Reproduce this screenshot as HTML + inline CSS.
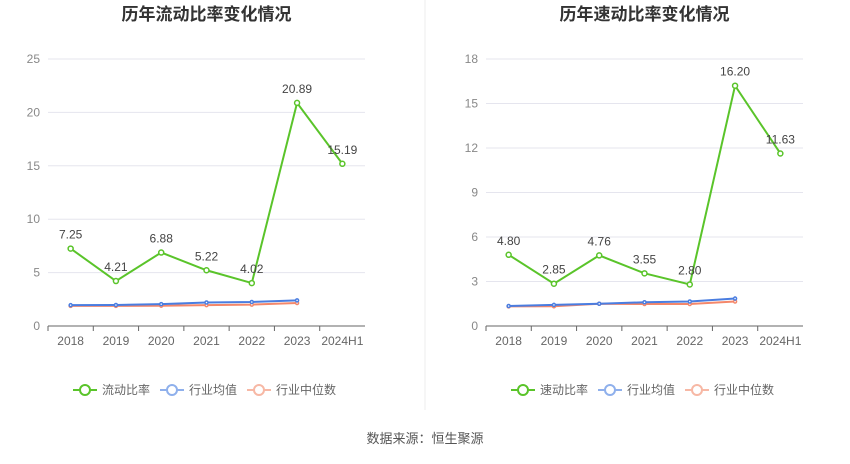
<!DOCTYPE html>
<html><head><meta charset="utf-8">
<style>
body{margin:0;background:#fff;font-family:"Liberation Sans","Noto Sans CJK SC",sans-serif;}
svg text{font-family:"Liberation Sans","Noto Sans CJK SC",sans-serif;}
</style></head>
<body>
<svg id="root" width="850" height="459">
<line x1="425" y1="0" x2="425" y2="410" stroke="#eeeeee"/>
<text x="425" y="443" text-anchor="middle" font-size="13" fill="#555">数据来源：恒生聚源</text>
</svg>
<script>
const categories=["2018","2019","2020","2021","2022","2023","2024H1"];
const leftMain=[7.25,4.21,6.88,5.22,4.02,20.89,15.19];
const leftAvg=[1.95,1.97,2.05,2.2,2.25,2.4];
const leftMed=[1.88,1.88,1.9,1.95,2.0,2.15];
const leftTicks=[0,5,10,15,20,25];
const rightMain=[4.80,2.85,4.76,3.55,2.80,16.20,11.63];
const rightAvg=[1.35,1.42,1.5,1.6,1.65,1.85];
const rightMed=[1.32,1.33,1.5,1.48,1.48,1.65];
const rightTicks=[0,3,6,9,12,15,18];
const NS="http://www.w3.org/2000/svg";
const root=document.getElementById('root');
function mk(tag,attrs,parent){const e=document.createElementNS(NS,tag);for(const k in attrs)e.setAttribute(k,attrs[k]);(parent||root).appendChild(e);return e;}
function chart(cfg){
  const g=mk('g',{});
  
  
  const x0=cfg.x0,x1=cfg.x0+317,yb=326,yt=59,max=cfg.ticks[cfg.ticks.length-1];
  const band=(x1-x0)/categories.length;
  const xs=i=>x0+band*(i+0.5);
  const ys=v=>yb-(v/max)*(yb-yt);
  const t=mk('text',{x:(x0+x1)/2,y:20,'text-anchor':'middle','font-size':17,'font-weight':'bold',fill:'#333'},g);
  t.textContent=cfg.title;
  
  
  cfg.ticks.forEach(v=>{
    const l=mk('line',{x1:x0,x2:x1,y1:ys(v),y2:ys(v),stroke:v===0?'#666':'#e5e5ee'},g);
    
    
    const tx=mk('text',{x:x0-8,y:ys(v)+4,'text-anchor':'end','font-size':12,fill:'#888'},g);
    tx.textContent=v;
    
    
  });
  categories.forEach((c,i)=>{
    const tk=mk('line',{x1:x0+band*i,x2:x0+band*i,y1:yb,y2:yb+5,stroke:'#666'},g);
    
    
    const tx=mk('text',{x:xs(i),y:yb+19,'text-anchor':'middle','font-size':12,fill:'#666'},g);
    tx.textContent=c;
    
    
  });
  const series=[[cfg.med,'#f4876a','median'],[cfg.avg,'#4a7de0','average'],[cfg.main,'#5ac42a','main']];
  series.forEach(([d,col,nm])=>{
    const pl=mk('polyline',{points:d.map((v,i)=>xs(i)+','+ys(v)).join(' '),fill:'none',stroke:col,'stroke-width':2},g);
    
    
    d.forEach((v,i)=>{
      const c=mk('circle',{cx:xs(i),cy:ys(v),r:nm==='main'?2.5:1.5,fill:'#fff',stroke:col,'stroke-width':1.5},g);
      
      
      if(nm==='main'){
        const lb=mk('text',{x:xs(i),y:ys(v)-10,'text-anchor':'middle','font-size':12,fill:'#444'},g);
        lb.textContent=v.toFixed(2);
        
        
      }
    });
  });
  const leg=[[cfg.label,'#5ac42a'],['行业均值','#8fb0ec'],['行业中位数','#f7b8a5']];
  let lx=cfg.x0+25;
  leg.forEach(([n,col],k)=>{
    const lg=mk('g',{},g);
    
    
    mk('line',{x1:lx,x2:lx+24,y1:390,y2:390,stroke:col,'stroke-width':2},lg);
    mk('circle',{cx:lx+12,cy:390,r:5,fill:'#fff',stroke:col,'stroke-width':2},lg);
    const tx=mk('text',{x:lx+29,y:394,'font-size':12,fill:'#666'},lg);
    tx.textContent=n;
    lx+=29+n.length*12+10;
  });
}
chart({name:'current-ratio-chart',title:'历年流动比率变化情况',label:'流动比率',x0:48,ticks:leftTicks,main:leftMain,avg:leftAvg,med:leftMed});
chart({name:'quick-ratio-chart',title:'历年速动比率变化情况',label:'速动比率',x0:486,ticks:rightTicks,main:rightMain,avg:rightAvg,med:rightMed});
</script>
</body></html>
